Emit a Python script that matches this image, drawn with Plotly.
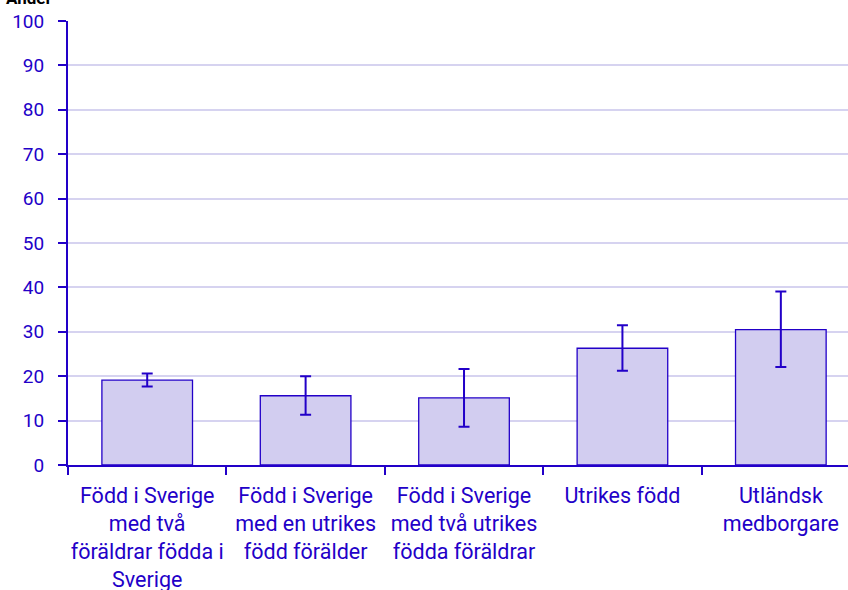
import plotly.graph_objects as go

categories = [
    "Född i Sverige<br>med två<br>föräldrar födda i<br>Sverige",
    "Född i Sverige<br>med en utrikes<br>född förälder",
    "Född i Sverige<br>med två utrikes<br>födda föräldrar",
    "Utrikes född",
    "Utländsk<br>medborgare",
]
values = [19.1, 15.6, 15.1, 26.3, 30.5]
err_upper = [20.6, 20.0, 21.6, 31.5, 39.1]
err_lower = [17.7, 11.3, 8.6, 21.2, 22.1]
y_title = "Andel"

plus = [u - v for u, v in zip(err_upper, values)]
minus = [v - l for v, l in zip(values, err_lower)]

BLUE = "#2200c8"
FONT = "Roboto"

fig = go.Figure(
    go.Bar(
        x=list(range(len(categories))),
        y=values,
        width=0.572,
        marker=dict(color="#d2cdf0", line=dict(color=BLUE, width=1.3)),
        error_y=dict(type="data", symmetric=False, array=plus, arrayminus=minus,
                     color=BLUE, thickness=2, width=5.5),
    )
)

fig.update_layout(
    width=848, height=590,
    margin=dict(l=68, r=0, t=21, b=125, autoexpand=False),
    paper_bgcolor="white", plot_bgcolor="white",
    showlegend=False,
    font=dict(family=FONT, size=19, color=BLUE),
    annotations=[dict(text="<b>" + y_title + "</b>", xref="paper", yref="paper",
                      x=0, xshift=-64, y=1, yshift=11, xanchor="left", yanchor="bottom",
                      showarrow=False, font=dict(family=FONT, size=17, color="black"))],
)

fig.update_xaxes(
    type="linear",
    range=[-0.5, 4.424],
    tickmode="array",
    tickvals=list(range(len(categories))),
    ticktext=categories,
    ticks="",
    showgrid=False,
    showline=True, linecolor=BLUE, linewidth=2,
    tickfont=dict(family=FONT, size=21.5, color=BLUE),
    zeroline=False,
    automargin=False,
    ticklabelstandoff=10,
)

fig.update_yaxes(
    range=[0, 100],
    tickvals=list(range(0, 101, 10)),
    ticks="outside", ticklen=8, tickcolor=BLUE, tickwidth=2,
    showline=True, linecolor=BLUE, linewidth=2,
    gridcolor="#d6d3f0", gridwidth=2,
    zeroline=False,
    automargin=False,
    ticklabelstandoff=10,
    tickfont=dict(family=FONT, size=19, color=BLUE),
)

fig.update_xaxes(minor=dict(tickvals=[-0.5, 0.5, 1.5, 2.5, 3.5], ticks="outside",
                            ticklen=8, tickcolor=BLUE, tickwidth=2, showgrid=False))

fig.write_html("out.html", config={"displayModeBar": False},
               post_script="document.body.style.margin='0';document.body.style.overflow='hidden';")
